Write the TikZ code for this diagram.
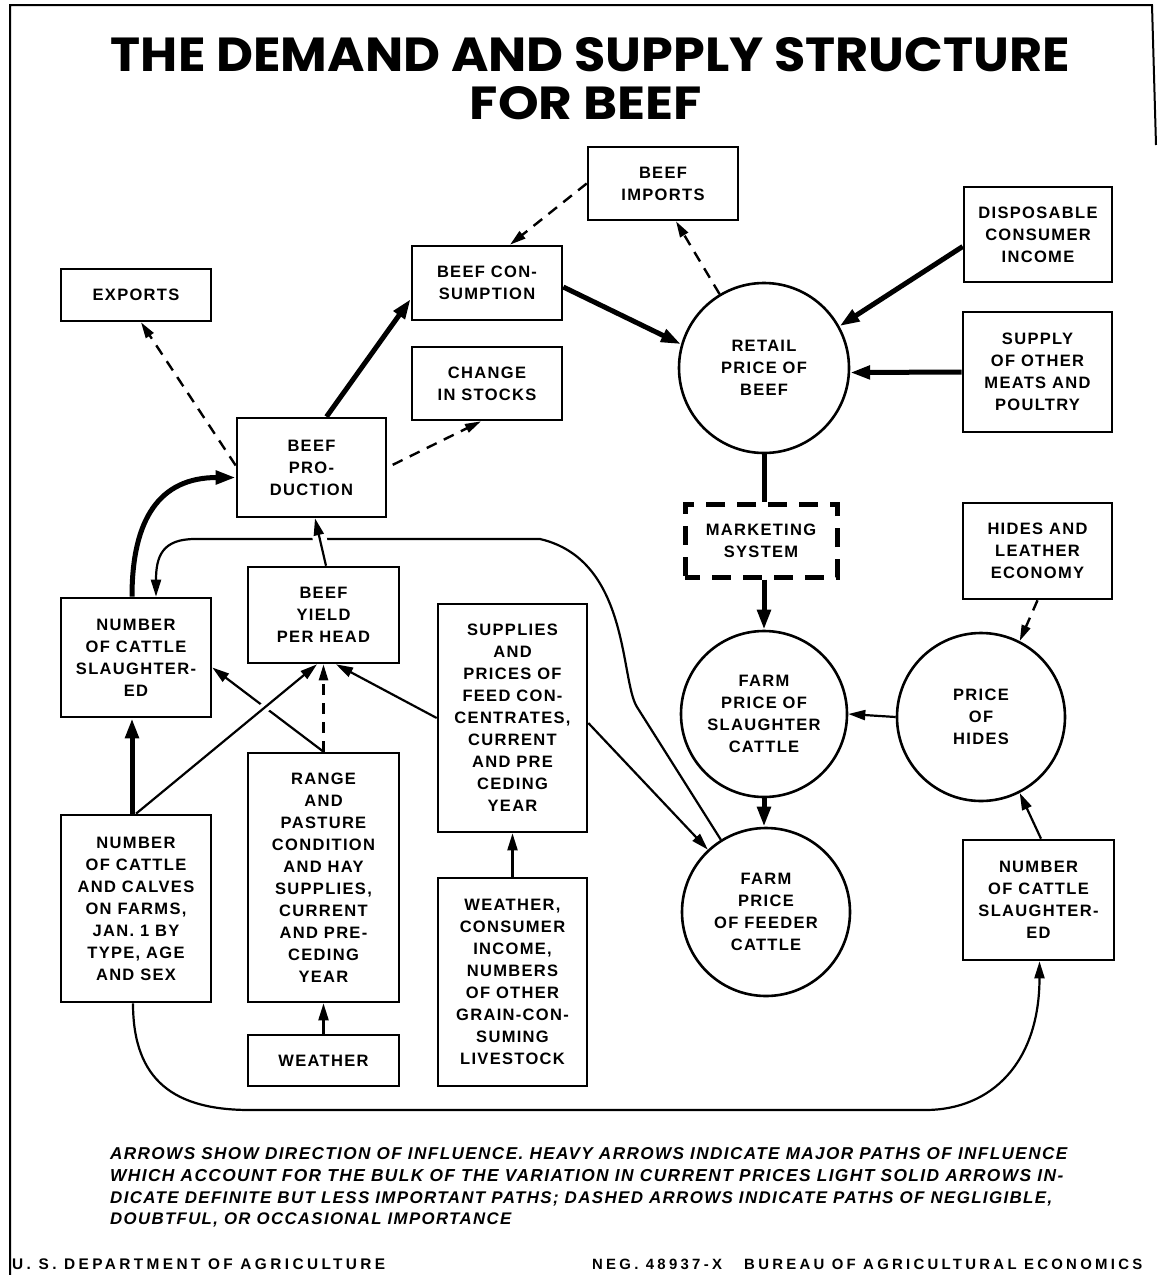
\documentclass[tikz,border=0pt]{standalone}
\usepackage{fontspec}
\usetikzlibrary{arrows.meta}
\newfontfamily\titlefont{Poppins}
\newfontfamily\boxfont[LetterSpace=8]{Liberation Sans}
\newfontfamily\notefont[LetterSpace=8]{Liberation Sans}
\newfontfamily\footfont[LetterSpace=22]{Liberation Sans}
\newcommand\boxtext{\boxfont\bfseries\fontsize{16.5}{22}\selectfont}
\begin{document}
\begin{tikzpicture}[x=1pt,y=-1pt,
  box/.style={draw, line width=2.6pt, rectangle, inner sep=0pt, align=center, font=\boxtext},
  rnd/.style={draw, line width=2.6pt, circle, inner sep=0pt, align=center, font=\boxtext},
  heavy/.style={line width=5pt, -{Triangle[length=20pt,width=13pt]}},
  heavyline/.style={line width=5pt},
  light/.style={line width=2.2pt, -{Triangle[length=17pt,width=10pt]}},
  dasharr/.style={line width=2.4pt, dash pattern=on 11pt off 8pt, -{Triangle[length=16pt,width=9pt]}},
  lbl/.style={inner sep=0pt, anchor=base west}
]
\useasboundingbox[fill=white] (0,0) rectangle (1160,1275);
% frame
\draw[line width=2pt] (10,1275) -- (10,5) -- (1152,5) -- (1156,145);

% title
\node[inner sep=0pt, anchor=base] (title1) at (590.5,71) {\resizebox{959pt}{34pt}{\titlefont\bfseries THE DEMAND AND SUPPLY STRUCTURE}};
\node[inner sep=0pt, anchor=base] (title2) at (586,119) {\resizebox{232pt}{33pt}{\titlefont\bfseries FOR BEEF}};

% boxes
\node[box, minimum width=150pt, minimum height=73pt] (imports) at (663,183.5) {BEEF\\IMPORTS};
\node[box, minimum width=150pt, minimum height=52pt] (exports) at (136,295) {EXPORTS};
\node[box, minimum width=150pt, minimum height=74pt] (cons) at (487,283) {BEEF CON-\\SUMPTION};
\node[box, minimum width=150pt, minimum height=73pt] (stocks) at (487,383.5) {CHANGE\\IN STOCKS};
\node[box, minimum width=149pt, minimum height=99pt] (prod) at (311.5,467.5) {BEEF\\PRO-\\DUCTION};
\node[box, minimum width=148pt, minimum height=95pt] (income) at (1038,234.5) {DISPOSABLE\\CONSUMER\\INCOME};
\node[box, minimum width=149pt, minimum height=120pt] (supply) at (1037.5,372) {SUPPLY\\OF OTHER\\MEATS AND\\POULTRY};
\node[rnd, minimum size=170pt] (retail) at (764,368) {RETAIL\\PRICE OF\\BEEF};
\node[rectangle, inner sep=0pt, align=center, font=\boxtext, draw, line width=5pt, dash pattern=on 19pt off 12pt, dash phase=4pt, minimum width=152pt, minimum height=73pt] (mkt) at (761,540.5) {MARKETING\\SYSTEM};
\node[box, minimum width=149pt, minimum height=96pt] (hides) at (1037.5,551) {HIDES AND\\LEATHER\\ECONOMY};
\node[box, minimum width=150pt, minimum height=119pt] (slL) at (136,657.5) {NUMBER\\OF CATTLE\\SLAUGHTER-\\ED};
\node[box, minimum width=151pt, minimum height=96pt] (yield) at (323.5,615) {BEEF\\YIELD\\PER HEAD};
\node[box, minimum width=149pt, minimum height=228pt] (feed) at (512.5,718) {SUPPLIES\\AND\\PRICES OF\\FEED CON-\\CENTRATES,\\CURRENT\\AND PRE\\CEDING\\YEAR};
\node[rnd, minimum size=166pt] (farmS) at (764,714) {FARM\\PRICE OF\\SLAUGHTER\\CATTLE};
\node[rnd, minimum size=168pt] (phides) at (981,717) {PRICE\\OF\\HIDES};
\node[box, minimum width=151pt, minimum height=249pt] (range) at (323.5,877.5) {RANGE\\AND\\PASTURE\\CONDITION\\AND HAY\\SUPPLIES,\\CURRENT\\AND PRE-\\CEDING\\YEAR};
\node[box, minimum width=150pt, minimum height=187pt] (calves) at (136,908.5) {NUMBER\\OF CATTLE\\AND CALVES\\ON FARMS,\\JAN. 1 BY\\TYPE, AGE\\AND SEX};
\node[box, minimum width=149pt, minimum height=208pt] (weatherci) at (512.5,982) {WEATHER,\\CONSUMER\\INCOME,\\NUMBERS\\OF OTHER\\GRAIN-CON-\\SUMING\\LIVESTOCK};
\node[rnd, minimum size=168pt] (feeder) at (766,912) {FARM\\PRICE\\OF FEEDER\\CATTLE};
\node[box, minimum width=151pt, minimum height=120pt] (slR) at (1038.5,900) {NUMBER\\OF CATTLE\\SLAUGHTER-\\ED};
\node[box, minimum width=151pt, minimum height=51pt] (weather) at (323.5,1060.5) {WEATHER};

% connectors
\draw[dasharr] (imports.west) -- ([xshift=23pt]cons.north);
\draw[dasharr] (retail.121) -- ([xshift=13pt]imports.south);
\draw[heavy] ([yshift=-4pt]cons.east) -- (retail.164);
\draw[heavy] ([yshift=-12pt]income.west) -- (retail.29);
\draw[heavy] (supply.west) -- (retail.-3);
\draw[heavyline] (retail.south) -- (retail.south |- mkt.north);
\draw[heavy] (retail.south |- mkt.south) -- (farmS.north);
\draw[heavy] (farmS.south) -- (farmS.south |- feeder.north);
\draw[light] (phides.west) -- (farmS.east);
\draw[dasharr] (hides.south) -- (phides.63);
\draw[light] ([xshift=2.5pt]slR.north) -- (phides.-63);
\draw[heavy] ([xshift=15pt]prod.north) -- ([yshift=-16pt]cons.west);
\draw[dasharr] ([yshift=2pt]prod.west) -- ([xshift=5pt]exports.south);
\draw[dasharr, shorten <=6pt] (prod.east) -- ([xshift=-6pt]stocks.south);
\draw[heavy] ([xshift=-4pt]slL.north) .. controls +(0,-78) and +(-76,0) .. ([yshift=-10pt]prod.west);
\draw[light] (feeder.122) -- (637,707) .. controls (620,680) and (630,560) .. (540,539) -- (195,539) .. controls (162,539) and ([xshift=20pt,yshift=40pt]slL.north) .. ([xshift=20pt]slL.north);
\draw[light, preaction={draw=white, line width=14pt, shorten <=8pt, shorten >=8pt, arrows=-}] ([xshift=2.5pt]yield.north) -- ([xshift=3.5pt]prod.south);
\draw[light] ([yshift=-5pt]feed.east) -- (feeder.133);
\draw[light] (feed.west) -- ([xshift=12.5pt]yield.south);
\draw[dasharr] (range.north) -- (yield.south);
\draw[light] (range.north) -- ([yshift=-10pt]slL.east);
\draw[light, preaction={draw=white, line width=10pt, shorten <=40pt, shorten >=60pt, arrows=-}] (calves.north) -- ([xshift=-6.5pt]yield.south);
\draw[heavy] ([xshift=-4pt]calves.north) -- ([xshift=-4pt]slL.south);
\draw[light] (weather.north) -- (range.south);
\draw[light] (weatherci.north) -- (feed.south);
\draw[light] ([xshift=-3pt]calves.south) .. controls +(0,78) and (175,1110) .. (250,1110) -- (925,1110) .. controls (992,1110) and (1039.5,1062) .. ([xshift=1pt]slR.south);

% notes
\node[lbl] (note1) at (110,1159.5) {\resizebox{957pt}{!}{\notefont\bfseries\itshape ARROWS SHOW DIRECTION OF INFLUENCE. HEAVY ARROWS INDICATE MAJOR PATHS OF INFLUENCE}};
\node[lbl] (note2) at (110,1181.5) {\resizebox{953pt}{!}{\notefont\bfseries\itshape WHICH ACCOUNT FOR THE BULK OF THE VARIATION IN CURRENT PRICES LIGHT SOLID ARROWS IN-}};
\node[lbl] (note3) at (110,1203.5) {\resizebox{942pt}{!}{\notefont\bfseries\itshape DICATE DEFINITE BUT LESS IMPORTANT PATHS; DASHED ARROWS INDICATE PATHS OF NEGLIGIBLE,}};
\node[lbl] (note4) at (110,1224.5) {\resizebox{401pt}{!}{\notefont\bfseries\itshape DOUBTFUL, OR OCCASIONAL IMPORTANCE}};
\node[lbl] (usda) at (12,1269) {\resizebox{373pt}{!}{\footfont\bfseries U. S. DEPARTMENT OF AGRICULTURE}};
\node[lbl] (bae) at (592,1269) {\resizebox{550pt}{!}{\footfont\bfseries NEG. 48937-X\ \ \ BUREAU OF AGRICULTURAL ECONOMICS}};
\end{tikzpicture}
\end{document}
